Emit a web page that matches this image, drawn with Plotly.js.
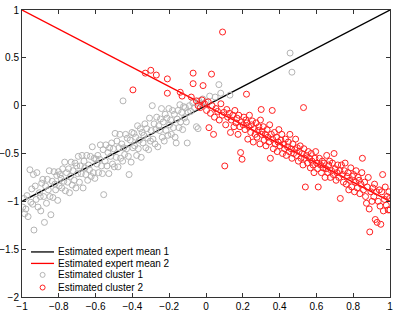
<!DOCTYPE html>
<html>
<head>
<meta charset="utf-8">
<script src="https://cdn.plot.ly/plotly-3.0.1.min.js"></script>
<style>html,body{margin:0;padding:0;background:#fff;}#chart{width:398px;height:311px;}</style>
</head>
<body>
<div id="chart"></div>
<script>
// Expert mean lines
const expert1X = [-1, 1];
const expert1Y = [-1, 1];
const expert2X = [-1, 1];
const expert2Y = [1, -1];

// Estimated cluster 1 (gray) [x, y]
const cluster1 = [
[-0.996,-1.06],[-0.990,-0.97],[-0.986,-1.13],[-0.979,-1.08],[-0.973,-0.94],[-0.967,-1.16],[-0.957,-0.67],[-0.952,-1.01],[-0.947,-0.87],[-0.942,-1.03],[-0.938,-0.72],[-0.935,-1.30],[-0.928,-0.84],[-0.923,-0.98],[-0.919,-0.70],[-0.913,-1.06],[-0.906,-0.91],[-0.901,-0.95],[-0.898,-1.10],[-0.893,-0.81],
[-0.887,-0.77],[-0.882,-0.95],[-0.878,-1.22],[-0.872,-0.84],[-0.867,-1.02],[-0.862,-0.77],[-0.857,-0.88],[-0.852,-0.68],[-0.848,-0.95],[-0.843,-1.14],[-0.836,-0.79],[-0.832,-0.96],[-0.826,-0.69],[-0.821,-0.82],[-0.817,-0.88],[-0.811,-0.73],[-0.806,-0.99],[-0.802,-0.69],[-0.798,-0.84],[-0.793,-0.72],
[-0.788,-0.76],[-0.784,-0.86],[-0.779,-0.66],[-0.773,-0.79],[-0.768,-0.59],[-0.764,-0.89],[-0.758,-0.70],[-0.752,-0.80],[-0.747,-0.66],[-0.742,-0.91],[-0.737,-0.74],[-0.733,-0.59],[-0.727,-0.83],[-0.723,-0.68],[-0.716,-0.78],[-0.712,-0.60],[-0.707,-0.86],[-0.703,-0.63],[-0.698,-0.71],[-0.694,-0.53],
[-0.688,-0.80],[-0.683,-0.63],[-0.678,-0.71],[-0.674,-0.52],[-0.668,-0.86],[-0.663,-0.58],[-0.658,-0.65],[-0.653,-0.72],[-0.648,-0.52],[-0.643,-0.78],[-0.638,-0.62],[-0.633,-0.67],[-0.628,-0.53],[-0.624,-0.74],[-0.618,-0.43],[-0.613,-0.70],[-0.608,-0.55],[-0.604,-0.76],[-0.598,-0.56],[-0.593,-0.61],
[-0.588,-0.52],[-0.584,-0.70],[-0.578,-0.56],[-0.574,-0.41],[-0.568,-0.63],[-0.563,-0.71],[-0.559,-0.46],[-0.556,-0.93],[-0.548,-0.58],[-0.544,-0.41],[-0.538,-0.63],[-0.533,-0.49],[-0.528,-0.71],[-0.524,-0.44],[-0.518,-0.53],[-0.513,-0.39],[-0.508,-0.61],[-0.503,-0.45],[-0.498,-0.64],[-0.494,-0.29],
[-0.488,-0.54],[-0.484,-0.37],[-0.478,-0.64],[-0.473,-0.44],[-0.468,-0.30],[-0.464,-0.55],[-0.458,-0.40],[-0.453,-0.58],[-0.451,0.05],[-0.447,-0.44],[-0.442,-0.51],[-0.437,-0.30],[-0.432,-0.45],[-0.428,-0.34],[-0.422,-0.53],[-0.418,-0.72],[-0.412,-0.36],[-0.407,-0.59],[-0.402,-0.28],[-0.397,-0.44],
[-0.392,-0.29],[-0.388,-0.42],[-0.382,-0.33],[-0.377,-0.52],[-0.372,-0.21],[-0.368,-0.45],[-0.362,-0.36],[-0.357,-0.24],[-0.352,-0.54],[-0.347,-0.28],[-0.342,-0.39],[-0.338,-0.31],[-0.332,-0.19],[-0.327,-0.44],[-0.322,-0.24],[-0.317,-0.34],[-0.312,-0.46],[-0.307,-0.13],[-0.302,-0.37],[-0.298,-0.26],
[-0.292,0.00],[-0.288,-0.35],[-0.282,-0.19],[-0.277,-0.40],[-0.272,-0.25],[-0.268,-0.12],[-0.262,-0.43],[-0.257,-0.21],[-0.252,-0.26],[-0.247,-0.14],[-0.242,-0.03],[-0.238,-0.33],[-0.232,-0.17],[-0.227,-0.37],[-0.222,-0.09],[-0.217,-0.26],[-0.212,-0.13],[-0.207,-0.31],[-0.202,-0.03],[-0.198,-0.20],
[-0.192,-0.15],[-0.188,-0.30],[-0.182,-0.05],[-0.177,-0.23],[-0.172,-0.09],[-0.168,-0.33],[-0.162,-0.39],[-0.157,-0.14],[-0.152,-0.05],[-0.147,-0.23],[-0.142,0.01],[-0.138,-0.17],[-0.132,-0.07],[-0.127,-0.25],[-0.122,-0.01],[-0.117,-0.13],[-0.112,-0.02],[-0.107,-0.17],[-0.102,-0.39],[-0.097,-0.07],
[-0.090,0.00],[-0.083,-0.06],[-0.072,0.03],[-0.063,-0.02],[-0.052,-0.22],[-0.043,-0.24],[-0.038,0.05],[-0.028,0.02],[-0.018,0.07],[0.000,0.04],[0.020,0.10],[0.050,0.09],[0.070,0.22],[0.080,0.13],[0.130,0.11],[0.457,0.55],[0.467,0.35]
];

// Estimated cluster 2 (red) [x, y]
const cluster2 = [
[-0.397,0.165],[-0.33,0.34],[-0.30,0.37],[-0.27,0.32],[-0.21,0.28],[-0.21,0.13],[-0.14,0.14],[-0.13,0.10],[-0.08,0.09],[-0.07,0.34],[-0.07,0.23],[-0.016,0.21],[0.03,0.33],[0.09,0.77],[0.22,0.12],[0.30,-0.04],[0.36,-0.05],[0.53,-0.02],
[-0.052,0.05],[-0.043,0.00],[-0.031,-0.02],[-0.022,0.06],[-0.008,0.02],[0.003,-0.05],[0.012,0.04],[0.016,-0.23],[0.024,-0.08],[0.033,0.00],[0.041,-0.30],[0.046,-0.12],[0.054,-0.03],[0.063,-0.06],[0.072,-0.15],[0.081,0.02],[0.088,-0.10],[0.097,-0.07],[0.102,-0.63],
[0.107,-0.20],[0.113,-0.04],[0.118,-0.12],[0.127,-0.08],[0.133,-0.28],[0.138,-0.15],[0.146,-0.10],[0.152,-0.22],[0.157,-0.05],[0.163,-0.18],[0.168,-0.13],[0.174,-0.30],[0.178,-0.10],[0.184,-0.22],[0.188,-0.49],[0.193,-0.17],[0.196,-0.56],[0.202,-0.20],[0.206,-0.12],
[0.212,-0.25],[0.216,-0.15],[0.222,-0.18],[0.227,-0.35],[0.232,-0.22],[0.236,-0.10],[0.243,-0.28],[0.247,-0.20],[0.252,-0.16],[0.257,-0.38],[0.263,-0.24],[0.267,-0.30],[0.272,-0.18],[0.277,-0.33],[0.283,-0.26],[0.287,-0.22],[0.293,-0.40],[0.296,-0.15],[0.302,-0.30],[0.306,-0.27],
[0.311,-0.22],[0.316,-0.36],[0.322,-0.30],[0.326,-0.42],[0.332,-0.25],[0.337,-0.33],[0.342,-0.38],[0.346,-0.20],[0.350,-0.55],[0.355,-0.30],[0.362,-0.35],[0.366,-0.45],[0.372,-0.28],[0.376,-0.40],[0.383,-0.33],[0.387,-0.48],[0.392,-0.38],[0.396,-0.25],[0.402,-0.42],[0.407,-0.36],
[0.412,-0.30],[0.416,-0.50],[0.422,-0.40],[0.427,-0.45],[0.432,-0.35],[0.436,-0.52],[0.443,-0.43],[0.447,-0.38],[0.452,-0.48],[0.456,-0.30],[0.462,-0.45],[0.467,-0.55],[0.472,-0.40],[0.476,-0.50],[0.483,-0.46],[0.487,-0.35],[0.492,-0.52],[0.496,-0.44],[0.502,-0.58],[0.506,-0.48],
[0.512,-0.42],[0.516,-0.55],[0.522,-0.50],[0.527,-0.62],[0.532,-0.45],[0.536,-0.55],[0.540,-0.85],[0.546,-0.52],[0.552,-0.60],[0.556,-0.48],[0.562,-0.55],[0.567,-0.65],[0.572,-0.50],[0.576,-0.58],[0.582,-0.62],[0.587,-0.70],[0.592,-0.55],[0.596,-0.48],[0.602,-0.60],[0.607,-0.66],
[0.610,-0.85],[0.616,-0.55],[0.622,-0.62],[0.627,-0.70],[0.632,-0.58],[0.636,-0.65],[0.642,-0.60],[0.647,-0.75],[0.652,-0.66],[0.656,-0.52],[0.662,-0.70],[0.667,-0.62],[0.672,-0.58],[0.676,-0.75],[0.682,-0.68],[0.687,-0.60],[0.692,-0.72],[0.696,-0.50],[0.702,-0.66],[0.707,-0.78],
[0.712,-0.70],[0.716,-0.62],[0.722,-0.75],[0.727,-0.68],[0.730,-0.97],[0.736,-0.62],[0.742,-0.72],[0.747,-0.80],[0.752,-0.68],[0.756,-0.60],[0.762,-0.82],[0.767,-0.74],[0.772,-0.70],[0.776,-0.88],[0.782,-0.78],[0.787,-0.65],[0.792,-0.85],[0.796,-0.74],[0.802,-0.72],[0.807,-0.90],
[0.812,-0.80],[0.816,-0.68],[0.822,-0.86],[0.827,-0.75],[0.832,-0.78],[0.836,-0.92],[0.842,-0.82],[0.847,-0.70],[0.850,-0.55],[0.856,-0.88],[0.862,-0.80],[0.867,-0.95],[0.872,-1.02],[0.876,-0.85],[0.882,-0.75],[0.887,-1.08],[0.890,-1.32],[0.896,-0.90],[0.902,-1.00],[0.907,-0.86],
[0.912,-0.95],[0.916,-0.82],[0.920,-1.19],[0.926,-0.90],[0.930,-1.22],[0.936,-1.00],[0.942,-0.88],[0.946,-1.05],[0.950,-1.24],[0.955,-0.90],[0.960,-0.72],[0.964,-1.10],[0.970,-0.98],[0.974,-0.85],[0.980,-1.04],[0.984,-0.95],[0.990,-1.09],[0.994,-0.90],[1.000,-1.09],[0.998,-0.97]
];

const xTicks = [-1, -0.8, -0.6, -0.4, -0.2, 0, 0.2, 0.4, 0.6, 0.8, 1];
const yTicks = [-2, -1.5, -1, -0.5, 0, 0.5, 1];
const legendNames = ["Estimated expert mean 1", "Estimated expert mean 2", "Estimated cluster 1", "Estimated cluster 2"];

const black = "#000000", red = "#ff0000", gray = "#b4b4b4", redMk = "#ff2020";
const fontFam = "Liberation Sans, Arial, sans-serif";

const traces = [
  {x: expert1X, y: expert1Y, mode: "lines", name: legendNames[0], line: {color: black, width: 1.3}},
  {x: expert2X, y: expert2Y, mode: "lines", name: legendNames[1], line: {color: red, width: 1.3}},
  {x: cluster1.map(p => p[0]), y: cluster1.map(p => p[1]), mode: "markers", name: legendNames[2],
   marker: {symbol: "circle-open", size: 6, color: gray, line: {width: 1}}},
  {x: cluster2.map(p => p[0]), y: cluster2.map(p => p[1]), mode: "markers", name: legendNames[3],
   marker: {symbol: "circle-open", size: 6, color: redMk, line: {width: 1}}}
];

const axisCommon = {
  showgrid: false, zeroline: false, showline: true, linecolor: "#333", linewidth: 1,
  mirror: "ticks", ticks: "inside", ticklen: 4, tickcolor: "#333",
  tickfont: {family: fontFam, size: 10, color: "#000"}
};

// Manual legend (layout only): rows in paper coordinates
const legRowsY = [0.157, 0.117, 0.077, 0.033];
const legKinds = ["line", "line", "circle", "circle"];
const legColors = [black, red, gray, redMk];
const shapes = [];
const annotations = [];
legendNames.forEach((nm, i) => {
  if (legKinds[i] === "line") {
    shapes.push({type: "line", xref: "paper", yref: "paper", x0: 0.0245, x1: 0.087, y0: legRowsY[i], y1: legRowsY[i],
                 line: {color: legColors[i], width: 1.3}});
  } else {
    shapes.push({type: "circle", xref: "paper", yref: "paper", xsizemode: "pixel", ysizemode: "pixel",
                 xanchor: 0.056, yanchor: legRowsY[i], x0: -2.5, x1: 2.5, y0: -2.5, y1: 2.5,
                 line: {color: legColors[i], width: 1}});
  }
  annotations.push({text: nm, xref: "paper", yref: "paper", x: 0.092, y: legRowsY[i], xanchor: "left", yanchor: "middle",
                    showarrow: false, font: {family: fontFam, size: 10, color: "#000"}});
});

const layout = {
  width: 398, height: 311,
  margin: {l: 22, r: 8, t: 10, b: 14},
  paper_bgcolor: "#fff", plot_bgcolor: "#fff",
  showlegend: false,
  shapes: shapes,
  annotations: annotations,
  xaxis: Object.assign({}, axisCommon, {range: [-1, 1], tickvals: xTicks, ticktext: xTicks.map(v => String(v).replace("-", "\u2212"))}),
  yaxis: Object.assign({}, axisCommon, {range: [-2, 1], tickvals: yTicks, ticktext: yTicks.map(v => String(v).replace("-", "\u2212"))})
};

Plotly.newPlot("chart", traces, layout, {displayModeBar: false, staticPlot: true});
</script>
</body>
</html>
